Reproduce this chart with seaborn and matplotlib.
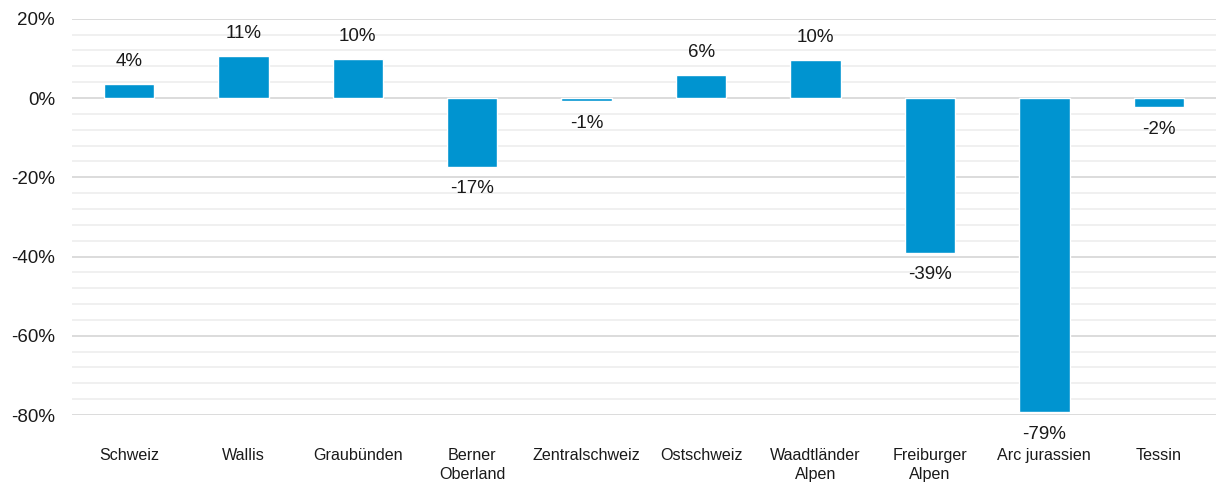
import numpy as np
import pandas as pd
import matplotlib
matplotlib.use('Agg')
import matplotlib.pyplot as plt
import seaborn as sns
from matplotlib.ticker import MultipleLocator, FuncFormatter

regions = ['Schweiz', 'Wallis', 'Graubünden', 'Berner\nOberland', 'Zentralschweiz',
           'Ostschweiz', 'Waadtländer\nAlpen', 'Freiburger\nAlpen', 'Arc jurassien', 'Tessin']
change = [3.6, 10.6, 9.8, -17.3, -0.8, 5.8, 9.6, -39.0, -79.2, -2.3]

sns.set_theme(style='white')
plt.rcParams['font.family'] = ['Liberation Sans', 'DejaVu Sans']

df = pd.DataFrame({'region': regions, 'change': change})

fig = plt.figure(figsize=(12.16, 4.82), dpi=100)
ax = fig.add_axes([0.059, 0.139, 0.941, 0.822])
sns.barplot(data=df, x='region', y='change', color='#0094d0', width=0.44,
            saturation=1, ax=ax, zorder=3)

ax.set_ylim(-80, 20)
ax.set_xlim(-0.5, len(regions) - 0.5)
ax.yaxis.set_major_locator(MultipleLocator(20))
ax.yaxis.set_minor_locator(MultipleLocator(4))
ax.yaxis.set_major_formatter(FuncFormatter(lambda v, p: f'{v:.0f}%'))
ax.grid(axis='y', which='major', color='#d9d9d9', linewidth=1.3, zorder=0)
ax.grid(axis='y', which='minor', color='#efefef', linewidth=1.3, zorder=0)
ax.set_axisbelow(True)
for s in ax.spines.values():
    s.set_visible(False)

ax.set_xlabel('')
ax.set_ylabel('')
ax.tick_params(axis='y', which='both', length=0, labelsize=13.5, pad=12, colors='#1a1a1a')
ax.tick_params(axis='x', length=0, labelsize=11.6, pad=24, colors='#1a1a1a')
for lab in ax.get_xticklabels():
    lab.set_linespacing(1.3)
    lab.set_verticalalignment('top')

for i, v in enumerate(change):
    off = 16 if v >= 0 else -16
    ax.annotate(f'{v:.0f}%', (i, v), xytext=(0, off), textcoords='offset points',
                ha='center', va='center', fontsize=13.5, color='#1a1a1a')

fig.savefig('out.png', dpi=100)
